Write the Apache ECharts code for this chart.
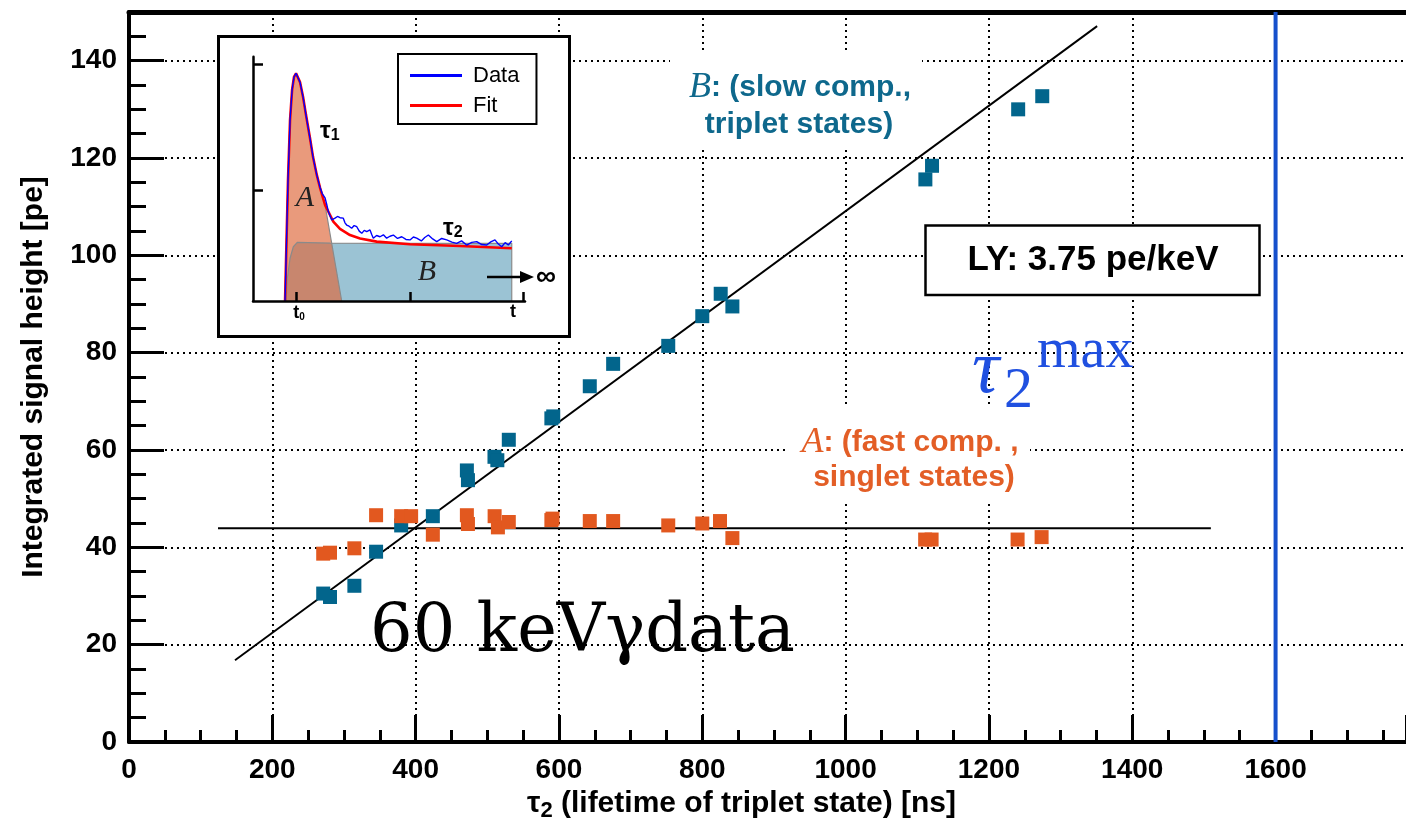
<!DOCTYPE html>
<html><head><meta charset="utf-8">
<script src="https://cdn.jsdelivr.net/npm/echarts@6/dist/echarts.min.js"></script>
<style>html,body{margin:0;padding:0;background:#fff}#c{width:1406px;height:827px}</style>
</head><body><div id="c"></div>
<script>
// ---- main chart data ----
const slowPoints = [[271,30.5],[280.5,29.8],[314.5,32.1],[344.8,39.1],[379.8,44.5],[424,46.4],[471.5,55.8],[473,53.8],[510,58.6],[514,57.9],[530,62.1],[589.4,66.5],[592,66.9],[643,73.1],[675.6,77.7],[752.5,81.4],[800,87.5],[825.7,92.1],[842,89.5],[1111.3,115.6],[1120.6,118.4],[1240.8,130.0],[1274.4,132.7]];
const fastPoints = [[271,38.7],[280.5,38.9],[314.5,39.8],[344.8,46.6],[379.8,46.4],[393.7,46.4],[424,42.6],[471.5,46.6],[473,44.8],[510.2,46.4],[514.8,44.1],[530,45.2],[589.4,45.6],[591,45.9],[643,45.4],[675.6,45.4],[752.5,44.5],[800,44.9],[824.7,45.4],[842,41.9],[1111,41.6],[1120,41.6],[1240,41.6],[1273.5,42.1]];
const slowFit = [[147.9,16.8],[1351,147.1]];
const fastFit = [[124.2,43.9],[1509.7,43.9]];
const tauMax = 1600;
const xRange = [0, 1782];
const yRange = [0, 150];
// ---- inset data (arbitrary units: t relative to t0, amplitude) ----
const insetFit = [[-10.3,0],[-9.0,25.0],[-7.7,49.5],[-5.9,74.1],[-4.1,86.4],[-2.4,91.7],[-0.6,93.2],[1.1,92.5],[2.9,89.6],[5.6,83.5],[8.2,76.1],[11.7,66.7],[14.4,58.9],[17.7,51.6],[20.6,46.3],[25.0,39.3],[32.3,32.5],[38.2,29.5],[47.0,27.0],[55.9,25.6],[70.6,24.3],[100.0,23.2],[144.1,22.5],[189.8,21.6]];
const insetData = [[-10.3,0],[-9.0,25.0],[-7.7,49.5],[-5.9,74.1],[-4.1,86.4],[-2.4,91.7],[-0.6,93.2],[1.1,92.5],[2.9,89.6],[5.6,83.5],[8.2,76.1],[11.7,66.7],[14.4,58.9],[17.7,51.6],[20.6,46.5],[22.5,44.0],[25.0,42.2],[26.5,39.5],[27.9,36.6],[29.5,34.8],[30.9,33.2],[32.3,32.6],[33.8,33.9],[36.0,34.6],[38.2,34.1],[41.1,33.9],[42.6,32.0],[44.1,31.1],[46.2,30.6],[48.5,29.8],[50.7,30.9],[53.0,30.4],[55.2,28.6],[57.4,27.7],[59.6,28.9],[61.8,28.4],[64.7,29.1],[66.2,27.2],[67.6,25.7],[70.5,26.8],[73.5,26.3],[76.5,27.1],[79.4,25.7],[82.3,26.5],[85.3,27.0],[89.0,25.6],[92.7,26.3],[96.4,25.2],[100.0,25.0],[103.0,26.2],[105.9,25.7],[110.0,24.6],[113.0,26.0],[116.2,27.0],[120.0,25.4],[123.6,24.3],[128.0,25.6],[132.4,25.0],[137.0,24.1],[141.2,23.6],[145.5,24.6],[150.0,22.9],[154.5,24.0],[158.9,24.3],[163.3,23.1],[167.7,22.9],[171.3,24.2],[175.0,25.0],[178.0,23.3],[180.9,22.2],[184.0,23.9],[186.8,22.9],[189.8,24.6]];
const insetFastArea = [[-10.3,0],[-9.0,25.0],[-7.7,49.5],[-5.9,74.1],[-4.1,86.4],[-2.4,91.7],[-0.6,93.2],[1.1,92.5],[2.9,89.6],[5.6,83.5],[8.2,76.1],[11.7,66.7],[14.4,58.9],[17.7,51.6],[20.6,46.3],[25.0,39.3],[39.7,0]];
const insetSlowArea = [[-9.4,0],[-8.3,9.3],[-5.9,17.5],[-3.0,22.2],[0.5,24.0],[29.4,23.7],[100,23.6],[189.8,23.6],[189.8,0]];
const insetXRange = [-38.6, 201.5];
const insetXTicks = [0, 100, 200];
const insetYTicks = [45.4, 96.9];

const SANS = '"Liberation Sans", Arial, Helvetica, sans-serif';
const SERIF = '"Liberation Serif", "Times New Roman", serif';
const TEAL = '#0e688c';
const ORANGE = '#e35e26';
const BLUE_TXT = '#2050e0';

const chart = echarts.init(document.getElementById('c'));
const dotted = {show:true, showMinLine:false, showMaxLine:false, lineStyle:{color:'#000', width:2, type:[2,4]}};
const option = {
  animation:false,
  backgroundColor:'#fff',
  grid:[
    {left:129, right:0, top:12, bottom:85, outerBoundsMode:'none', containLabel:false},
    {left:253, top:56.7, width:272, height:244.3, outerBoundsMode:'none', containLabel:false}
  ],
  legend:{
    data:[{name:'Data', icon:'rect'},{name:'Fit', icon:'rect'}], orient:'vertical', left:398, top:54,
    padding:[9,17,6,12], itemGap:5, itemWidth:52, itemHeight:3,
    textStyle:{fontSize:22, fontFamily:SANS, color:'#000', padding:[0,0,0,6], lineHeight:25},
    borderColor:'#000', borderWidth:2, backgroundColor:'#fff', z:12
  },
  xAxis:[
    {gridIndex:0, type:'value', min:xRange[0], max:xRange[1], interval:200, position:'bottom',
     axisLine:{onZero:false, lineStyle:{color:'#000', width:4}},
     axisTick:{inside:true, length:27, lineStyle:{color:'#000', width:3}},
     axisLabel:{fontSize:28, fontWeight:'bold', fontFamily:SANS, color:'#000', margin:14,
       formatter:v => (v % 200 === 0 ? String(v) : '')},
     splitLine:dotted,
     name:'{t|τ}{s|2}{n| (lifetime of triplet state) [ns]}', nameLocation:'middle', nameGap:44,
     nameTextStyle:{padding:[0,52,0,0], rich:{
       t:{fontSize:30, fontWeight:'bold', fontFamily:SANS, color:'#000'},
       s:{fontSize:22, fontWeight:'bold', fontFamily:SANS, color:'#000', padding:[14,0,0,0]},
       n:{fontSize:30, fontWeight:'bold', fontFamily:SANS, color:'#000'}}}},
    {gridIndex:0, type:'value', min:xRange[0], max:xRange[1], interval:50, position:'bottom',
     axisLine:{show:false, onZero:false}, axisTick:{inside:true, length:12, lineStyle:{color:'#000', width:3}},
     axisLabel:{show:false}, splitLine:{show:false}},
    {gridIndex:0, type:'value', min:xRange[0], max:xRange[1], position:'top',
     axisLine:{onZero:false, lineStyle:{color:'#000', width:5}}, axisTick:{show:false},
     axisLabel:{show:false}, splitLine:{show:false}},
    {gridIndex:1, type:'value', min:insetXRange[0], max:insetXRange[1], position:'bottom', z:11,
     axisLine:{onZero:false, lineStyle:{color:'#000', width:2.5}},
     axisTick:{inside:true, length:9, customValues:insetXTicks, lineStyle:{color:'#000', width:2.5}},
     axisLabel:{show:false}, splitLine:{show:false}}
  ],
  yAxis:[
    {gridIndex:0, type:'value', min:yRange[0], max:yRange[1], interval:20, position:'left',
     axisLine:{onZero:false, lineStyle:{color:'#000', width:4}},
     axisTick:{inside:true, length:35, lineStyle:{color:'#000', width:3}},
     axisLabel:{fontSize:28, fontWeight:'bold', fontFamily:SANS, color:'#000', margin:12,
       formatter:v => (v % 20 === 0 ? String(v) : '')},
     splitLine:dotted,
     name:'Integrated signal height [pe]', nameLocation:'middle', nameGap:80, nameRotate:90,
     nameTextStyle:{fontSize:30, fontWeight:'bold', fontFamily:SANS, color:'#000'}},
    {gridIndex:0, type:'value', min:yRange[0], max:yRange[1], interval:5, position:'left',
     axisLine:{show:false, onZero:false}, axisTick:{inside:true, length:17, lineStyle:{color:'#000', width:3}},
     axisLabel:{show:false}, splitLine:{show:false}},
    {gridIndex:1, type:'value', min:0, max:100, position:'left', z:11,
     axisLine:{onZero:false, lineStyle:{color:'#000', width:2.5}},
     axisTick:{inside:true, length:10, customValues:insetYTicks, lineStyle:{color:'#000', width:2.5}},
     axisLabel:{show:false}, splitLine:{show:false}}
  ],
  series:[
    {name:'slowFit', type:'line', xAxisIndex:0, yAxisIndex:0, data:slowFit, symbol:'none', silent:true,
     lineStyle:{color:'#000', width:1.9}, z:2},
    {name:'fastFit', type:'line', xAxisIndex:0, yAxisIndex:0, data:fastFit, symbol:'none', silent:true,
     lineStyle:{color:'#000', width:2}, z:2},
    {name:'tauMax', type:'line', xAxisIndex:0, yAxisIndex:0, data:[[tauMax,yRange[0]],[tauMax,yRange[1]]], symbol:'none', silent:true,
     lineStyle:{color:'#1650cc', width:4}, z:2},
    {name:'slow', type:'scatter', xAxisIndex:0, yAxisIndex:0, data:slowPoints, symbol:'rect', symbolSize:14,
     itemStyle:{color:'#02658c', opacity:1}, z:3},
    {name:'fast', type:'scatter', xAxisIndex:0, yAxisIndex:0, data:fastPoints, symbol:'rect', symbolSize:14,
     itemStyle:{color:'#e2581f', opacity:1}, z:3},
    {name:'B area', type:'line', xAxisIndex:3, yAxisIndex:2, data:insetSlowArea, symbol:'none',
     lineStyle:{color:'#8a8a8a', width:1.2}, areaStyle:{color:'rgb(155,195,212)', opacity:1}, z:8},
    {name:'A area', type:'line', xAxisIndex:3, yAxisIndex:2, data:insetFastArea, symbol:'none',
     lineStyle:{color:'#8a8a8a', width:1.2}, areaStyle:{color:'rgb(222,105,60)', opacity:0.67}, z:8},
    {name:'Fit', type:'line', xAxisIndex:3, yAxisIndex:2, data:insetFit, symbol:'none',
     lineStyle:{color:'#ff0000', width:2.6}, itemStyle:{color:'#ff0000'}, z:9},
    {name:'Data', type:'line', xAxisIndex:3, yAxisIndex:2, data:insetData, symbol:'none',
     lineStyle:{color:'#0000ff', width:1.4}, itemStyle:{color:'#0000ff'}, z:10}
  ],
  graphic:[
    {type:'rect', z:6, silent:true, shape:{x:218.5, y:36.5, width:351, height:300}, style:{fill:'#fff', stroke:'#000', lineWidth:3}},
    {type:'rect', z:4, silent:true, shape:{x:670, y:53, width:252, height:95}, style:{fill:'#fff'}},
    {type:'rect', z:4, silent:true, shape:{x:785, y:407, width:245, height:96}, style:{fill:'#fff'}},
    {type:'rect', z:4, silent:true, shape:{x:925.5, y:225.5, width:334, height:69.5}, style:{fill:'#fff', stroke:'#000', lineWidth:2.5}},
    {type:'text', z:7, x:800, y:88, style:{text:'{i|B}{s|: (slow comp.,}', align:'center', verticalAlign:'middle',
      rich:{i:{fontFamily:SERIF, fontStyle:'italic', fontSize:36, fill:TEAL}, s:{fontFamily:SANS, fontWeight:'bold', fontSize:30, fill:TEAL}}}},
    {type:'text', z:7, x:799, y:125, style:{text:'triplet states)', align:'center', verticalAlign:'middle', fontFamily:SANS, fontWeight:'bold', fontSize:30, fill:TEAL}},
    {type:'text', z:7, x:910, y:443, style:{text:'{i|A}{s|: (fast comp. ,}', align:'center', verticalAlign:'middle',
      rich:{i:{fontFamily:SERIF, fontStyle:'italic', fontSize:36, fill:ORANGE}, s:{fontFamily:SANS, fontWeight:'bold', fontSize:30, fill:ORANGE}}}},
    {type:'text', z:7, x:914, y:478, style:{text:'singlet states)', align:'center', verticalAlign:'middle', fontFamily:SANS, fontWeight:'bold', fontSize:30, fill:ORANGE}},
    {type:'text', z:7, x:1093, y:260, style:{text:'LY: 3.75 pe/keV', align:'center', verticalAlign:'middle', fontFamily:SANS, fontWeight:'bold', fontSize:35, fill:'#000'}},
    {type:'text', z:7, x:972, y:372, style:{text:'τ', align:'left', verticalAlign:'middle', fontFamily:SERIF, fontStyle:'italic', fontSize:76, fill:BLUE_TXT}},
    {type:'text', z:7, x:1004, y:392, style:{text:'2', align:'left', verticalAlign:'middle', fontFamily:SERIF, fontSize:58, fill:BLUE_TXT}},
    {type:'text', z:7, x:1037, y:352, style:{text:'max', align:'left', verticalAlign:'middle', fontFamily:SERIF, fontSize:56, fill:BLUE_TXT}},
    {type:'text', z:7, x:370, y:634, style:{text:'60 keVγdata', align:'left', verticalAlign:'middle', fontFamily:'"DejaVu Serif", serif', fontSize:67, fill:'#000'}},
    // inset annotations
    {type:'text', z:13, x:320, y:131, style:{text:'{t|τ}{s|1}', align:'left', verticalAlign:'middle',
      rich:{t:{fontFamily:SANS, fontWeight:'bold', fontSize:24, fill:'#000'}, s:{fontFamily:SANS, fontWeight:'bold', fontSize:16, fill:'#000', padding:[10,0,0,0]}}}},
    {type:'text', z:13, x:443, y:228, style:{text:'{t|τ}{s|2}', align:'left', verticalAlign:'middle',
      rich:{t:{fontFamily:SANS, fontWeight:'bold', fontSize:24, fill:'#000'}, s:{fontFamily:SANS, fontWeight:'bold', fontSize:16, fill:'#000', padding:[10,0,0,0]}}}},
    {type:'text', z:13, x:305, y:198, style:{text:'A', align:'center', verticalAlign:'middle', fontFamily:SERIF, fontStyle:'italic', fontSize:30, fill:'#222'}},
    {type:'text', z:13, x:427, y:272, style:{text:'B', align:'center', verticalAlign:'middle', fontFamily:SERIF, fontStyle:'italic', fontSize:30, fill:'#222'}},
    {type:'line', z:13, shape:{x1:487, y1:277, x2:524, y2:277}, style:{stroke:'#000', lineWidth:2.5}},
    {type:'polygon', z:13, shape:{points:[[520,271],[534,277],[520,283]]}, style:{fill:'#000'}},
    {type:'text', z:13, x:536, y:277, style:{text:'∞', align:'left', verticalAlign:'middle', fontFamily:SANS, fontWeight:'bold', fontSize:28, fill:'#000'}},
    {type:'text', z:13, x:299, y:313, style:{text:'{t|t}{s|0}', align:'center', verticalAlign:'middle',
      rich:{t:{fontFamily:SANS, fontWeight:'bold', fontSize:18, fill:'#000'}, s:{fontFamily:SANS, fontWeight:'bold', fontSize:10, fill:'#000', padding:[8,0,0,0]}}}},
    {type:'text', z:13, x:513, y:312, style:{text:'t', align:'center', verticalAlign:'middle', fontFamily:SANS, fontWeight:'bold', fontSize:18, fill:'#000'}}
  ]
};
chart.setOption(option);
</script>
</body></html>
